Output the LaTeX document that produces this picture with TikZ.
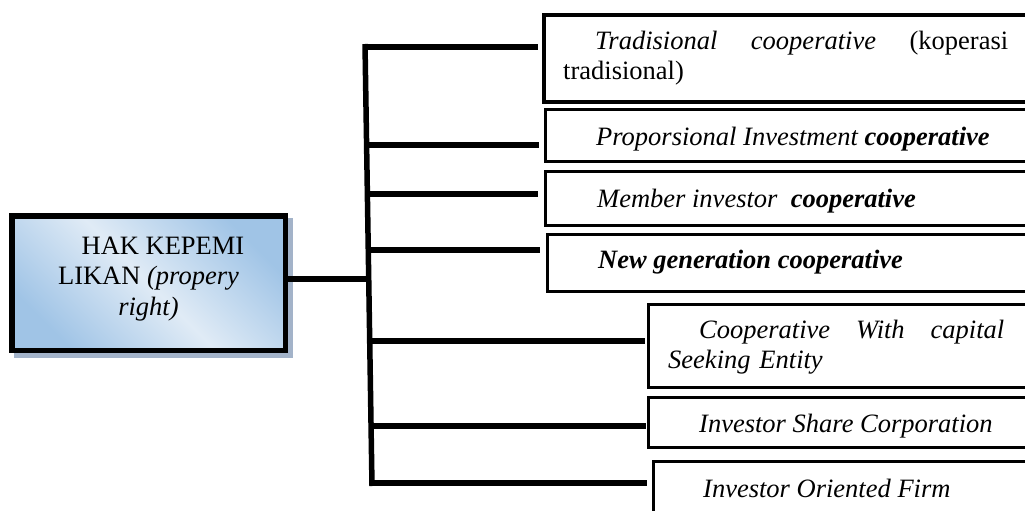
\documentclass[tikz,border=0pt]{standalone}
\usepackage{fontspec}
\setmainfont{Liberation Serif}
\usetikzlibrary{shadows,calc}
\definecolor{boxdark}{HTML}{A0C4E6}
\definecolor{boxlight}{HTML}{E0EBF6}
\definecolor{shadowc}{HTML}{A3B3C9}
\tikzset{
  conn/.style={line width=5.5pt, line cap=butt},
  optbox/.style={draw, line width=3pt, fill=white, anchor=north west, inner sep=0pt, minimum width=500pt},
  lbl/.style={inner sep=0pt, anchor=base west, font=\fontsize{26.5}{30}\selectfont},
  rootbox/.style={draw, line width=5.5pt, left color=boxdark, right color=boxdark, middle color=boxlight, shading angle=-45,
    general shadow={draw=shadowc, fill=shadowc, shadow xshift=4.5pt, shadow yshift=-5pt},
    minimum width=273.5pt, minimum height=134.5pt, inner sep=0pt, align=center, font=\fontsize{26.5}{30}\selectfont}
}
\begin{document}
\begin{tikzpicture}[x=1pt,y=-1pt]
\useasboundingbox (0,0) rectangle (1025,511);

% root box
\node[rootbox] (root) at (148.5,283) {\hspace*{29pt}HAK KEPEMI\\LIKAN \textit{(propery}\\\textit{right)}\rule[-13.5pt]{0pt}{13.5pt}};

% option boxes
\node[optbox, line width=4pt, minimum height=87pt] (b1) at (542,13) {};
\node[optbox, minimum height=52pt] (b2) at (544,108) {};
\node[optbox, minimum height=54pt] (b3) at (544,170) {};
\node[optbox, minimum height=57pt] (b4) at (546,233) {};
\node[optbox, minimum height=83pt] (b5) at (647,303) {};
\node[optbox, minimum height=50pt] (b6) at (647,396) {};
\node[optbox, minimum height=100pt] (b7) at (652,460) {};

% texts
\node[lbl, text width=445pt, align=left] (t1) at (563,49)
  {\hspace*{32pt}\textit{Tradisional}\hfill\textit{cooperative}\hfill(koperasi\\tradisional)};
\node[lbl] (t2) at (596,145) {\textit{Proporsional Investment \textbf{cooperative}}};
\node[lbl] (t3) at (597,207) {\textit{Member investor\ \ \textbf{cooperative}}};
\node[lbl] (t4) at (598,268) {\textit{\textbf{New generation cooperative}}};
\node[lbl, text width=336pt, align=left] (t5) at (668,338)
  {\hspace*{31pt}\textit{Cooperative}\hfill\textit{With}\hfill\textit{capital}\\\textit{Seeking Entity}};
\node[lbl] (t6) at (699,432) {\textit{Investor Share Corporation}};
\node[lbl] (t7) at (703,497) {\textit{Investor Oriented Firm}};

% trunk
\coordinate (jtop) at (365,44);
\coordinate (jbot) at (372,486);
\coordinate (j1) at (365.0,47);
\coordinate (j2) at (366.6,145);
\coordinate (j3) at (367.4,194);
\coordinate (j4) at (368.3,250);
\coordinate (jr) at (368.7,279);
\coordinate (j5) at (369.7,341);
\coordinate (j6) at (371.1,426);
\coordinate (j7) at (372.0,483);

\draw[conn] (jtop) -- (jbot);
\draw[conn] ([yshift=4pt]root.east) -- (jr);
\draw[conn] (j1) -- ($(j1 -| b1.west)+(-4,0)$);
\draw[conn] (j2) -- ($(j2 -| b2.west)+(-5,0)$);
\draw[conn] (j3) -- ($(j3 -| b3.west)+(-6,0)$);
\draw[conn] (j4) -- ($(j4 -| b4.west)+(-6,0)$);
\draw[conn] (j5) -- ($(j5 -| b5.west)+(-2,0)$);
\draw[conn] (j6) -- ($(j6 -| b6.west)+(-1,0)$);
\draw[conn] (j7) -- ($(j7 -| b7.west)+(-5,0)$);
\end{tikzpicture}
\end{document}
